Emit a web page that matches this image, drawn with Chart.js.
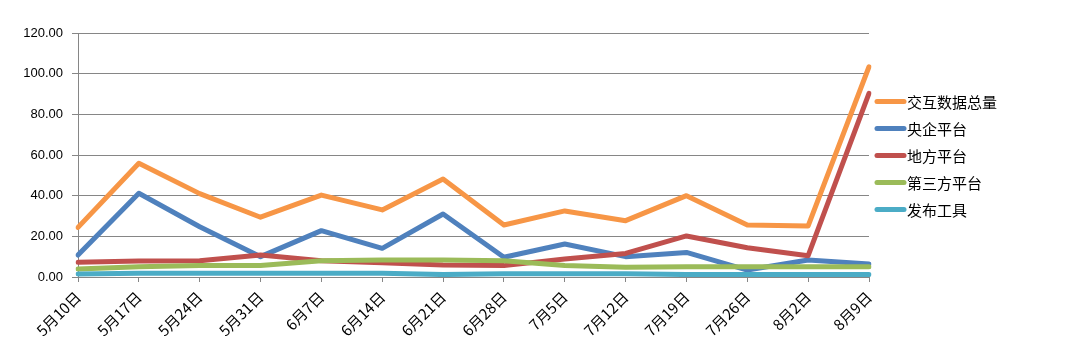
<!DOCTYPE html>
<html>
<head>
<meta charset="utf-8">
<script src="https://cdn.jsdelivr.net/npm/chart.js@4/dist/chart.umd.min.js"></script>
<style>
  body { margin: 0; background: #fff; }
  canvas { display: block; }
</style>
</head>
<body>
<canvas id="lineChart" width="1072" height="352"></canvas>
<script>
// dữ liệu
const weeks = ["5月10日", "5月17日", "5月24日", "5月31日", "6月7日", "6月14日", "6月21日",
  "6月28日", "7月5日", "7月12日", "7月19日", "7月26日", "8月2日", "8月9日"];
const seriesNames = ["交互数据总量", "央企平台", "地方平台", "第三方平台", "发布工具"];
const totalData = [24.4, 55.9, 41.0, 29.4, 40.3, 33.0, 48.2, 25.6, 32.5, 27.7, 40.0, 25.6, 25.1, 103.4];
const centralData = [10.8, 41.2, 24.7, 10.0, 22.8, 14.1, 31.0, 9.7, 16.2, 10.0, 12.1, 3.4, 8.4, 6.4];
const localData = [7.2, 7.9, 8.0, 10.8, 8.0, 7.0, 5.9, 5.6, 8.8, 11.6, 20.2, 14.4, 10.5, 90.3];
const thirdData = [3.9, 5.1, 5.6, 5.6, 8.0, 8.4, 8.4, 8.0, 5.6, 4.8, 5.1, 5.1, 5.1, 5.1];
const toolData = [1.5, 1.8, 1.8, 1.8, 1.8, 1.8, 1.2, 1.6, 1.6, 1.6, 1.2, 1.2, 1.2, 1.2];
const yTicks = [0, 20, 40, 60, 80, 100, 120];

const colors = ["#F79646", "#4F81BD", "#C0504D", "#9BBB59", "#4BACC6"];
const allData = [totalData, centralData, localData, thirdData, toolData];

const tickFont = { family: "'Liberation Sans', 'Noto Sans CJK SC'", size: 13 };
const cjkFont = "'Noto Sans CJK SC', 'Liberation Sans'";

// chú giải bên phải, vẽ tay
const sideLegend = {
  id: "sideLegend",
  afterDraw(chart) {
    const ctx = chart.ctx;
    const x = chart.chartArea.right + 6;
    ctx.save();
    ctx.font = "15px " + cjkFont;
    ctx.textBaseline = "middle";
    chart.data.datasets.forEach((ds, i) => {
      const y = chart.chartArea.top + 68.5 + i * 27;
      ctx.strokeStyle = ds.borderColor;
      ctx.lineWidth = 5;
      ctx.lineCap = "round";
      ctx.beginPath();
      ctx.moveTo(x + 2, y);
      ctx.lineTo(x + 29, y);
      ctx.stroke();
      ctx.fillStyle = "#000";
      ctx.fillText(ds.label, x + 32, y + 1);
    });
    ctx.restore();
  },
};

const ctx = document.getElementById("lineChart").getContext("2d");
new Chart(ctx, {
  type: "line",
  data: {
    labels: weeks,
    datasets: seriesNames.map((name, i) => ({
      label: name,
      data: allData[i],
      borderColor: colors[i],
      backgroundColor: colors[i],
      borderWidth: 5,
      borderCapStyle: "round",
      borderJoinStyle: "round",
      pointRadius: 0,
      tension: 0,
      order: seriesNames.length - i, // series sau nằm trên
    })),
  },
  options: {
    responsive: false,
    animation: false,
    layout: { padding: { top: 33, right: 1072 - 869, bottom: 0, left: 0 } },
    plugins: {
      legend: { display: false },
      tooltip: { enabled: false },
    },
    scales: {
      x: {
        offset: false,
        grid: { drawOnChartArea: false, drawTicks: true, tickLength: 5, color: "#868686" },
        border: { color: "#868686" },
        ticks: {
          color: "#000",
          font: { family: cjkFont, size: 15 },
          minRotation: 45,
          maxRotation: 45,
          autoSkip: false,
          padding: 6,
        },
        afterFit(scale) { scale.height = 75; },
      },
      y: {
        min: 0,
        max: 120,
        afterBuildTicks(scale) { scale.ticks = yTicks.map((v) => ({ value: v })); },
        grid: { color: "#868686", tickLength: 6 },
        border: { color: "#868686" },
        ticks: {
          color: "#000",
          font: tickFont,
          padding: 9,
          callback: (v) => Number(v).toFixed(2),
        },
        afterFit(scale) { scale.width = 78; },
      },
    },
  },
  plugins: [sideLegend],
});
</script>
</body>
</html>
